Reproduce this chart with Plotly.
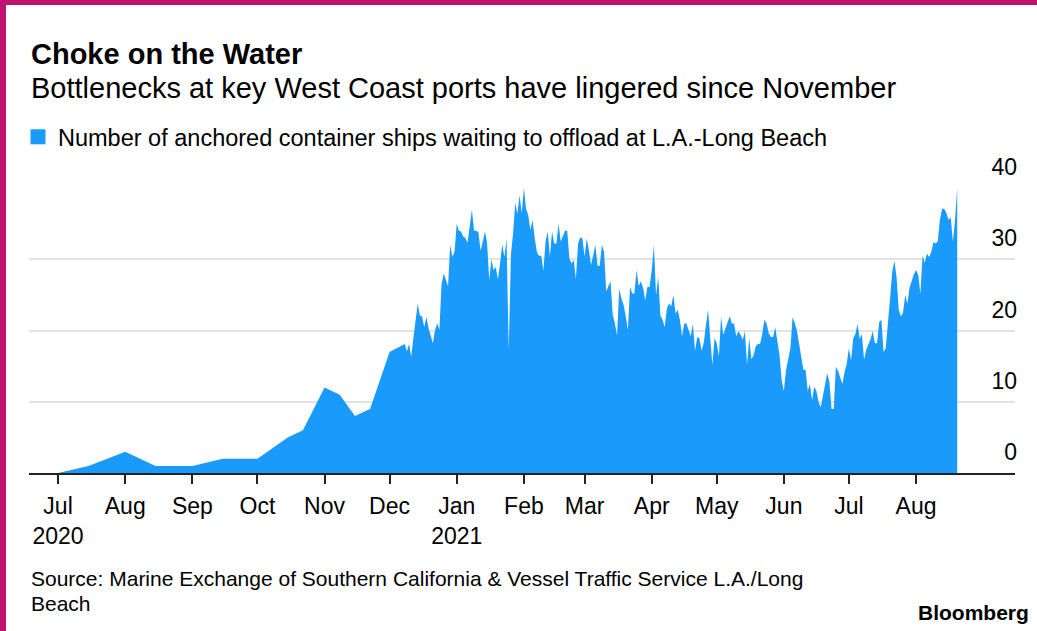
import pandas as pd
import plotly.graph_objects as go

# ---------------- data ----------------
# early, sparse observations (2020)
sparse_dates = ["2020-07-01", "2020-07-15", "2020-08-01", "2020-08-15", "2020-09-01",
                "2020-09-15", "2020-10-01", "2020-10-15", "2020-10-22", "2020-11-01",
                "2020-11-08", "2020-11-15", "2020-11-22", "2020-12-01"]
sparse_vals = [0, 1, 3, 1, 1, 2, 2, 5, 6, 12, 11, 8, 9, 17]

# daily observations from 2020-12-08
daily_start = "2020-12-08"
dec_2020 = [18.1, 17.1, 18.1, 16.3, 19.0, 21.5, 23.8, 22.1, 22.0, 20.5, 21.9, 20.3, 19.2, 18.2,
            20.1, 21.0, 20.1, 26.5, 28.0, 27.0, 26.2, 32.0, 30.3, 31.1]
jan_2021 = [35.0, 34.0, 33.9, 33.2, 33.0, 32.3, 34.6, 37.0, 34.0, 34.0, 33.8, 31.2, 32.5, 33.9,
            32.4, 27.1, 30.0, 28.5, 28.9, 27.2, 29.4, 32.1, 30.3, 32.9, 17.2, 30.6, 33.6, 37.9,
            36.4, 39.0, 36.5]
feb_2021 = [40.0, 37.1, 36.2, 34.1, 35.5, 33.0, 31.0, 30.5, 30.5, 28.4, 32.5, 33.9, 30.4, 33.9,
            32.2, 32.2, 35.0, 32.5, 33.4, 34.0, 34.0, 30.1, 29.4, 29.9, 27.2, 32.2, 33.1, 32.9]
mar_2021 = [30.4, 32.9, 31.3, 29.2, 30.6, 32.0, 29.1, 29.1, 32.0, 31.1, 25.5, 26.3, 26.9, 22.2,
            21.0, 19.3, 25.9, 24.5, 23.6, 22.0, 20.1, 26.1, 25.2, 25.2, 28.5, 26.2, 26.9, 26.0,
            24.2, 26.1, 26.1]
apr_2021 = [28.5, 32.0, 25.0, 27.5, 22.1, 21.5, 20.5, 23.1, 23.8, 23.4, 25.0, 22.4, 22.9, 21.5,
            19.2, 21.0, 21.0, 20.1, 19.2, 20.9, 17.2, 19.1, 18.9, 17.2, 18.2, 20.7, 22.9, 18.9,
            15.2, 18.9]
may_2021 = [18.2, 16.4, 21.9, 19.4, 20.3, 21.3, 22.0, 21.0, 21.0, 19.2, 19.9, 19.4, 18.7, 19.9,
            15.2, 18.9, 16.0, 16.5, 17.8, 18.1, 18.1, 19.5, 21.5, 21.0, 19.6, 19.1, 19.1, 20.5,
            18.5, 16.5, 13.0]
jun_2021 = [11.5, 14.5, 16.1, 17.5, 21.9, 21.1, 20.0, 18.2, 16.0, 14.5, 14.5, 11.5, 12.5, 10.2,
            12.1, 11.5, 10.0, 9.2, 10.8, 12.6, 14.0, 12.8, 9.0, 9.0, 14.9, 14.3, 13.5, 12.5,
            14.2, 15.3]
jul_2021 = [17.5, 15.8, 18.9, 19.5, 20.9, 18.8, 19.5, 15.9, 17.3, 18.0, 18.8, 19.9, 18.2, 18.2,
            21.2, 21.5, 17.0, 17.5, 20.5, 24.5, 28.2, 29.8, 27.5, 22.9, 22.0, 22.5, 25.0, 23.8,
            26.0, 27.0, 27.9]
aug_2021 = [28.5, 27.8, 25.2, 30.5, 29.5, 30.8, 30.3, 31.0, 32.4, 32.2, 32.5, 35.5, 37.1, 37.1,
            36.5, 35.5, 35.9, 32.5, 35.5, 40.0]

tick_dates = ["2020-07-01", "2020-08-01", "2020-09-01", "2020-10-01", "2020-11-01",
              "2020-12-01", "2021-01-01", "2021-02-01", "2021-03-01", "2021-04-01",
              "2021-05-01", "2021-06-01", "2021-07-01", "2021-08-01"]
tick_labels = ["Jul<br>2020", "Aug", "Sep", "Oct", "Nov", "Dec", "Jan<br>2021", "Feb",
               "Mar", "Apr", "May", "Jun", "Jul", "Aug"]
y_ticks = [0, 10, 20, 30, 40]

series_name = "Number of anchored container ships waiting to offload at L.A.-Long Beach"

# ---------------- build ----------------
daily_vals = (dec_2020 + jan_2021 + feb_2021 + mar_2021 + apr_2021 + may_2021 +
              jun_2021 + jul_2021 + aug_2021)
daily_dates = pd.date_range(daily_start, periods=len(daily_vals), freq="D")
x_all = list(pd.to_datetime(sparse_dates)) + list(daily_dates)
y_all = sparse_vals + daily_vals

W, H = 1037, 631
L, R, T, B = 29, 1015, 188, 473  # plot area in pixels


def px_x(p):
    return (p - L) / (R - L)


def px_y(p):
    return (B - p) / (B - T)


FONT = "Liberation Sans, Arial, Helvetica, sans-serif"
BLUE = "#1a9bfc"
MAGENTA = "#c0136f"

fig = go.Figure()
fig.add_trace(go.Scatter(
    x=x_all, y=y_all, mode="lines", fill="tozeroy",
    line=dict(width=0, color=BLUE), fillcolor=BLUE,
    showlegend=False, hoverinfo="x+y",
))
# legend entry (square swatch)
fig.add_trace(go.Scatter(
    x=[None], y=[None], mode="markers", name=series_name,
    marker=dict(symbol="square", size=15, color=BLUE), showlegend=True,
))

fig.update_layout(
    width=W, height=H,
    margin=dict(l=L, r=W - R, t=T, b=H - B, pad=0, autoexpand=False),
    paper_bgcolor="white", plot_bgcolor="white",
    font=dict(family=FONT, color="#000000"),
    showlegend=True,
    legend=dict(
        x=px_x(18), y=px_y(137), xanchor="left", yanchor="middle",
        orientation="h", font=dict(size=23.5, color="#000000"),
        bgcolor="rgba(0,0,0,0)", itemclick=False, itemdoubleclick=False,
    ),
    xaxis=dict(
        type="date",
        range=["2020-06-17 14:00", "2021-09-15 16:00"],
        tickmode="array", tickvals=tick_dates, ticktext=tick_labels,
        ticks="outside", ticklen=9, tickwidth=1.5, tickcolor="#222222",
        showline=True, linecolor="#222222", linewidth=1.5,
        showgrid=False, zeroline=False, automargin=False,
        ticklabelstandoff=3,
        tickfont=dict(size=23, color="#000000"),
        fixedrange=True,
    ),
    yaxis=dict(
        range=[0, 40], side="left", anchor="free", position=1,
        tickmode="array", tickvals=y_ticks,
        ticklabelposition="outside", ticklabelshift=-21, ticklabelstandoff=-2,
        showgrid=True, gridcolor="#e3e3e3", gridwidth=1.5,
        zeroline=False, showline=False, ticks="", automargin=False,
        tickfont=dict(size=23, color="#000000"),
        fixedrange=True,
    ),
)

# magenta frame (left and top)
fig.add_shape(type="rect", xref="paper", yref="paper",
              x0=px_x(0), x1=px_x(6), y0=px_y(H), y1=px_y(0),
              fillcolor=MAGENTA, line=dict(width=0), layer="above")
fig.add_shape(type="rect", xref="paper", yref="paper",
              x0=px_x(0), x1=px_x(W), y0=px_y(5), y1=px_y(0),
              fillcolor=MAGENTA, line=dict(width=0), layer="above")

anns = [
    dict(text="<b>Choke on the Water</b>", y=54, size=29),
    dict(text="Bottlenecks at key West Coast ports have lingered since November", y=88, size=29),
    dict(text="Source: Marine Exchange of Southern California &amp; Vessel Traffic Service L.A./Long",
         y=578, size=21),
    dict(text="Beach", y=603, size=21),
]
for a in anns:
    fig.add_annotation(text=a["text"], x=px_x(29), y=px_y(a["y"]), xref="paper", yref="paper",
                       xanchor="left", yanchor="middle", align="left", showarrow=False,
                       font=dict(family=FONT, size=a["size"], color="#000000"))
fig.add_annotation(text="<b>Bloomberg</b>", x=px_x(1031), y=px_y(612), xref="paper",
                   yref="paper", xanchor="right", yanchor="middle", showarrow=False,
                   font=dict(family=FONT, size=21, color="#000000"))

fig.write_html("out.html", config={"displayModeBar": False},
               post_script="document.body.style.margin='0';")
